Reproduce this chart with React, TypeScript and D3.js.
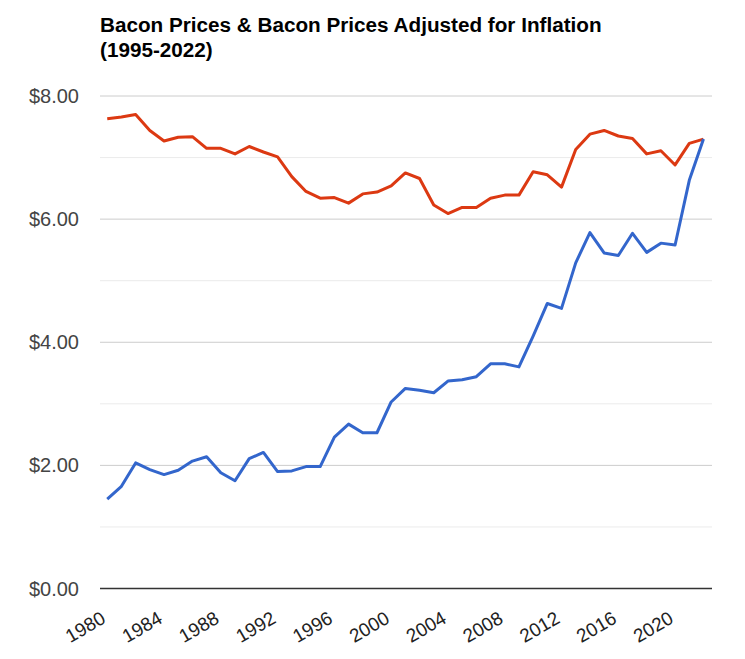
import React from "react";
import * as d3 from "d3";

const years: number[] = d3.range(1980, 2023);
const nominal: number[] = [
  1.45, 1.66, 2.04, 1.93, 1.85, 1.92, 2.07, 2.14, 1.88, 1.75,
  2.11, 2.21, 1.90, 1.91, 1.98, 1.98, 2.46, 2.67, 2.53, 2.53,
  3.03, 3.25, 3.22, 3.18, 3.37, 3.39, 3.44, 3.65, 3.65, 3.60,
  4.10, 4.63, 4.55, 5.29, 5.78, 5.45, 5.41, 5.77, 5.46, 5.61,
  5.58, 6.63, 7.30,
];
const adjusted: number[] = [
  7.63, 7.66, 7.70, 7.44, 7.27, 7.33, 7.34, 7.15, 7.15, 7.06,
  7.18, 7.09, 7.01, 6.69, 6.45, 6.34, 6.35, 6.26, 6.41, 6.44,
  6.54, 6.75, 6.66, 6.23, 6.09, 6.19, 6.19, 6.34, 6.39, 6.39,
  6.77, 6.72, 6.52, 7.13, 7.38, 7.44, 7.35, 7.31, 7.06, 7.11,
  6.88, 7.23, 7.30,
];
const xTicks: number[] = [1980, 1984, 1988, 1992, 1996, 2000, 2004, 2008, 2012, 2016, 2020];
const yMajor: number[] = [0, 2, 4, 6, 8];
const yMinor: number[] = [1, 3, 5, 7];
const titleLines: string[] = ["Bacon Prices & Bacon Prices Adjusted for Inflation", "(1995-2022)"];

const W = 745;
const H = 659;
const left = 100;
const right = 712;
const top = 96;
const bottom = 588.5;
const font = "Arial, 'Liberation Sans', sans-serif";

export default function App() {
  const x = d3.scaleLinear().domain([1979.49, 2022.6]).range([left, right]);
  const y = d3.scaleLinear().domain([0, 8]).range([bottom, top]);
  const line = d3
    .line<number>()
    .x((_, i) => x(years[i]))
    .y((d) => y(d));
  const fmt = d3.format("$.2f");
  return (
    <svg
      width={W}
      height={H}
      style={{ position: "absolute", left: 0, top: 0, background: "#fff" }}
    >
      <rect x={0} y={0} width={W} height={H} fill="#fff" />
      {titleLines.map((t, i) => (
        <text
          key={t}
          x={100}
          y={31.5 + i * 25.5}
          fontFamily={font}
          fontWeight="bold"
          fontSize={20.7}
          fill="#000"
        >
          {t}
        </text>
      ))}
      {yMinor.map((v) => (
        <line key={"mn" + v} x1={left} x2={right} y1={y(v)} y2={y(v)} stroke="#ebebeb" strokeWidth={1} />
      ))}
      {yMajor.filter((v) => v > 0).map((v) => (
        <line key={"mj" + v} x1={left} x2={right} y1={y(v)} y2={y(v)} stroke="#cccccc" strokeWidth={1} />
      ))}
      {yMajor.map((v) => (
        <text
          key={"yl" + v}
          x={79}
          y={y(v) + 7}
          textAnchor="end"
          fontFamily={font}
          fontSize={20}
          fill="#444"
        >
          {fmt(v)}
        </text>
      ))}
      <path d={line(adjusted) || ""} fill="none" stroke="#dc3912" strokeWidth={3} strokeLinejoin="round" />
      <path d={line(nominal) || ""} fill="none" stroke="#3366cc" strokeWidth={3} strokeLinejoin="round" />
      <line x1={left} x2={right} y1={y(0)} y2={y(0)} stroke="#333" strokeWidth={1.5} />
      {xTicks.map((t) => (
        <text
          key={"xt" + t}
          transform={`translate(${x(t) - 7},${bottom + 22}) rotate(-30)`}
          textAnchor="end"
          dy="0.7em"
          fontFamily={font}
          fontSize={19}
          fill="#222"
        >
          {t}
        </text>
      ))}
    </svg>
  );
}
